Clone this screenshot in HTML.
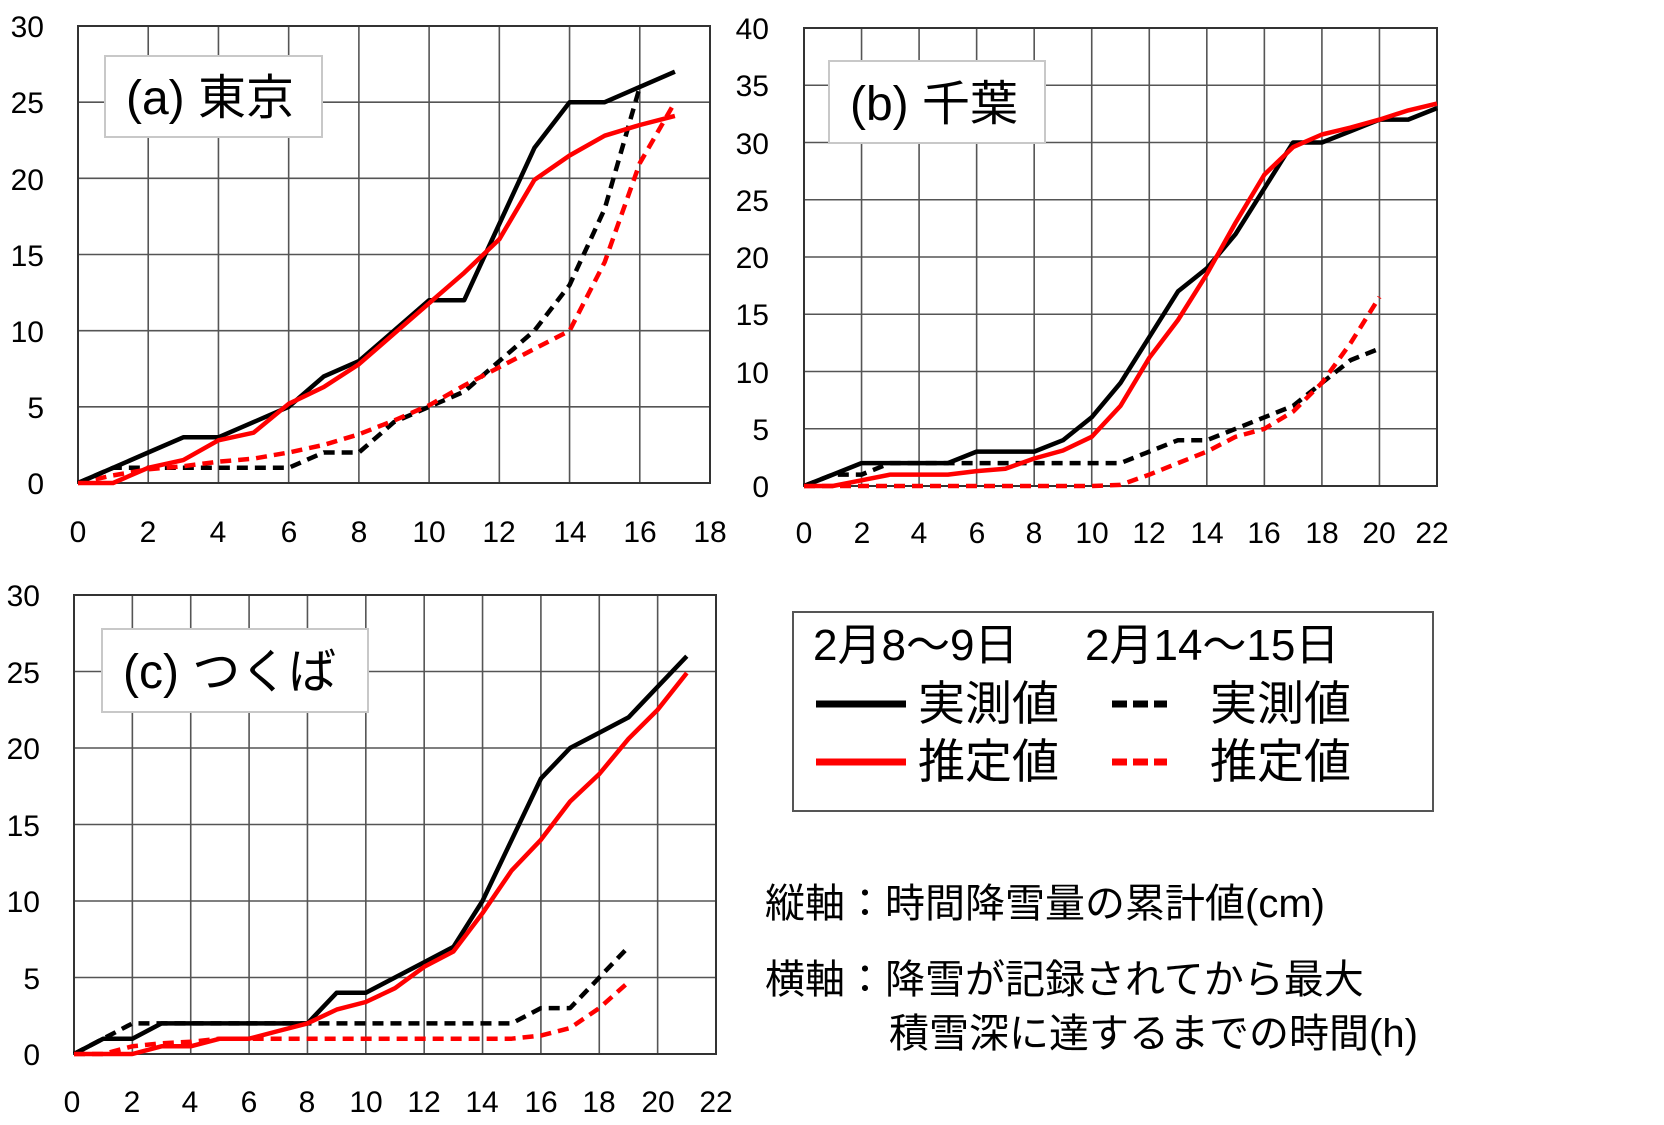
<!DOCTYPE html>
<html><head><meta charset="utf-8"><style>
html,body{margin:0;padding:0;background:#fff;}
svg{display:block;}
text{font-family:"Liberation Sans","Noto Sans CJK JP",sans-serif;fill:#000;}
</style></head><body>
<svg id="s" xmlns="http://www.w3.org/2000/svg" width="1664" height="1125" viewBox="0 0 1664 1125">
<g id="plots"></g>
<g font-size="30" text-anchor="end">
<text x="44" y="494">0</text><text x="44" y="418">5</text><text x="44" y="342">10</text><text x="44" y="266">15</text><text x="44" y="190">20</text><text x="44" y="113">25</text><text x="44" y="37">30</text>
</g>
<g font-size="30" text-anchor="middle">
<text x="78" y="542">0</text><text x="148" y="542">2</text><text x="218" y="542">4</text><text x="289" y="542">6</text><text x="359" y="542">8</text><text x="429" y="542">10</text><text x="499" y="542">12</text><text x="570" y="542">14</text><text x="640" y="542">16</text><text x="710" y="542">18</text>
</g>
<g font-size="30" text-anchor="end">
<text x="769" y="497">0</text><text x="769" y="440">5</text><text x="769" y="383">10</text><text x="769" y="325">15</text><text x="769" y="268">20</text><text x="769" y="211">25</text><text x="769" y="154">30</text><text x="769" y="96">35</text><text x="769" y="39">40</text>
</g>
<g font-size="30" text-anchor="middle">
<text x="804" y="543">0</text><text x="862" y="543">2</text><text x="919" y="543">4</text><text x="977" y="543">6</text><text x="1034" y="543">8</text><text x="1092" y="543">10</text><text x="1149" y="543">12</text><text x="1207" y="543">14</text><text x="1264" y="543">16</text><text x="1322" y="543">18</text><text x="1379" y="543">20</text><text x="1432" y="543">22</text>
</g>
<g font-size="30" text-anchor="end">
<text x="40" y="1065">0</text><text x="40" y="989">5</text><text x="40" y="912">10</text><text x="40" y="836">15</text><text x="40" y="759">20</text><text x="40" y="683">25</text><text x="40" y="606">30</text>
</g>
<g font-size="30" text-anchor="middle">
<text x="72" y="1112">0</text><text x="132" y="1112">2</text><text x="190" y="1112">4</text><text x="249" y="1112">6</text><text x="307" y="1112">8</text><text x="366" y="1112">10</text><text x="424" y="1112">12</text><text x="482" y="1112">14</text><text x="541" y="1112">16</text><text x="599" y="1112">18</text><text x="658" y="1112">20</text><text x="716" y="1112">22</text>
</g>
<rect x="105" y="56" width="217" height="81" fill="#fff" stroke="#c8c8c8" stroke-width="2"/>
<text x="126" y="114" font-size="48">(a) 東京</text>
<rect x="829" y="61" width="216" height="82" fill="#fff" stroke="#c8c8c8" stroke-width="2"/>
<text x="850" y="120" font-size="48">(b) 千葉</text>
<rect x="102" y="629" width="266" height="83" fill="#fff" stroke="#c8c8c8" stroke-width="2"/>
<text x="123" y="688" font-size="48">(c) つくば</text>
<rect x="793" y="612" width="640" height="199" fill="#fff" stroke="#555" stroke-width="2"/>
<text x="813" y="660" font-size="44">2月8〜9日</text>
<text x="1085" y="660" font-size="44">2月14〜15日</text>
<line x1="816" y1="704" x2="906" y2="704" stroke="#000" stroke-width="7"/>
<line x1="1112" y1="704" x2="1167" y2="704" stroke="#000" stroke-width="7" stroke-dasharray="15,6"/>
<text x="918" y="720" font-size="47">実測値</text>
<text x="1210" y="720" font-size="47">実測値</text>
<line x1="816" y1="762" x2="906" y2="762" stroke="#f00" stroke-width="7"/>
<line x1="1112" y1="762" x2="1167" y2="762" stroke="#f00" stroke-width="7" stroke-dasharray="15,6"/>
<text x="918" y="778" font-size="47">推定値</text>
<text x="1210" y="778" font-size="47">推定値</text>
<text x="765" y="917" font-size="40">縦軸：時間降雪量の累計値(cm)</text>
<text x="765" y="993" font-size="40">横軸：降雪が記録されてから最大</text>
<text x="889" y="1047" font-size="40">積雪深に達するまでの時間(h)</text>
</svg>
<script>
var NS="http://www.w3.org/2000/svg";
var g=document.getElementById("plots");
function el(n,a){var e=document.createElementNS(NS,n);for(var k in a)e.setAttribute(k,a[k]);g.appendChild(e);return e;}
function plot(L,R,T,B,xmax,ymax,ystep,series){
  for(var i=0;i<=xmax;i+=2){var x=L+(R-L)*i/xmax;el("line",{x1:x,y1:T,x2:x,y2:B,stroke:"#555","stroke-width":1.6});}
  for(var v=0;v<=ymax;v+=ystep){var y=B-(B-T)*v/ymax;el("line",{x1:L,y1:y,x2:R,y2:y,stroke:"#555","stroke-width":1.6});}
  el("rect",{x:L,y:T,width:R-L,height:B-T,fill:"none",stroke:"#333","stroke-width":2});
  series.forEach(function(s){
    var pts=s.d.map(function(v,i){return (L+(R-L)*i/xmax).toFixed(1)+","+(B-(B-T)*v/ymax).toFixed(1);}).join(" ");
    var a={points:pts,fill:"none",stroke:s.c,"stroke-width":4.5,"stroke-linejoin":"round"};
    if(s.dash)a["stroke-dasharray"]="11,7";
    el("polyline",a);
  });
}
plot(78,710,26,483,18,30,5,[
 {c:"#000",dash:1,d:[0,1,1,1,1,1,1,2,2,4,5,6,8,10,13,18,26]},
 {c:"#f00",dash:1,d:[0,0.5,0.9,1.1,1.4,1.6,2,2.5,3.2,4.1,5.1,6.4,7.6,8.8,10,14.5,21,25]},
 {c:"#000",d:[0,1,2,3,3,4,5,7,8,10,12,12,17,22,25,25,26,27]},
 {c:"#f00",d:[0,0,1,1.5,2.8,3.3,5.2,6.3,7.8,9.8,11.8,13.8,16,19.9,21.5,22.8,23.5,24.1]}
]);
plot(804,1437,28,486,22,40,5,[
 {c:"#000",dash:1,d:[0,1,1,2,2,2,2,2,2,2,2,2,3,4,4,5,6,7,9,11,12]},
 {c:"#f00",dash:1,d:[0,0,0,0,0,0,0,0,0,0,0,0.1,1,2,3,4.3,5,6.5,9,12.5,16.5]},
 {c:"#000",d:[0,1,2,2,2,2,3,3,3,4,6,9,13,17,19,22,26,30,30,31,32,32,33]},
 {c:"#f00",d:[0,0,0.5,1,1,1,1.3,1.5,2.4,3.1,4.3,7,11.2,14.5,18.5,23,27.2,29.6,30.7,31.3,32,32.8,33.4]}
]);
plot(74,716,595,1054,22,30,5,[
 {c:"#000",dash:1,d:[0,1,2,2,2,2,2,2,2,2,2,2,2,2,2,2,3,3,5,7]},
 {c:"#f00",dash:1,d:[0,0,0.5,0.7,0.8,1,1,1,1,1,1,1,1,1,1,1,1.2,1.7,3,4.7]},
 {c:"#000",d:[0,1,1,2,2,2,2,2,2,4,4,5,6,7,10,14,18,20,21,22,24,26]},
 {c:"#f00",d:[0,0,0,0.5,0.5,1,1,1.5,2,2.9,3.4,4.3,5.7,6.7,9.2,12,14,16.5,18.3,20.6,22.5,24.9]}
]);
</script>
</body></html>
